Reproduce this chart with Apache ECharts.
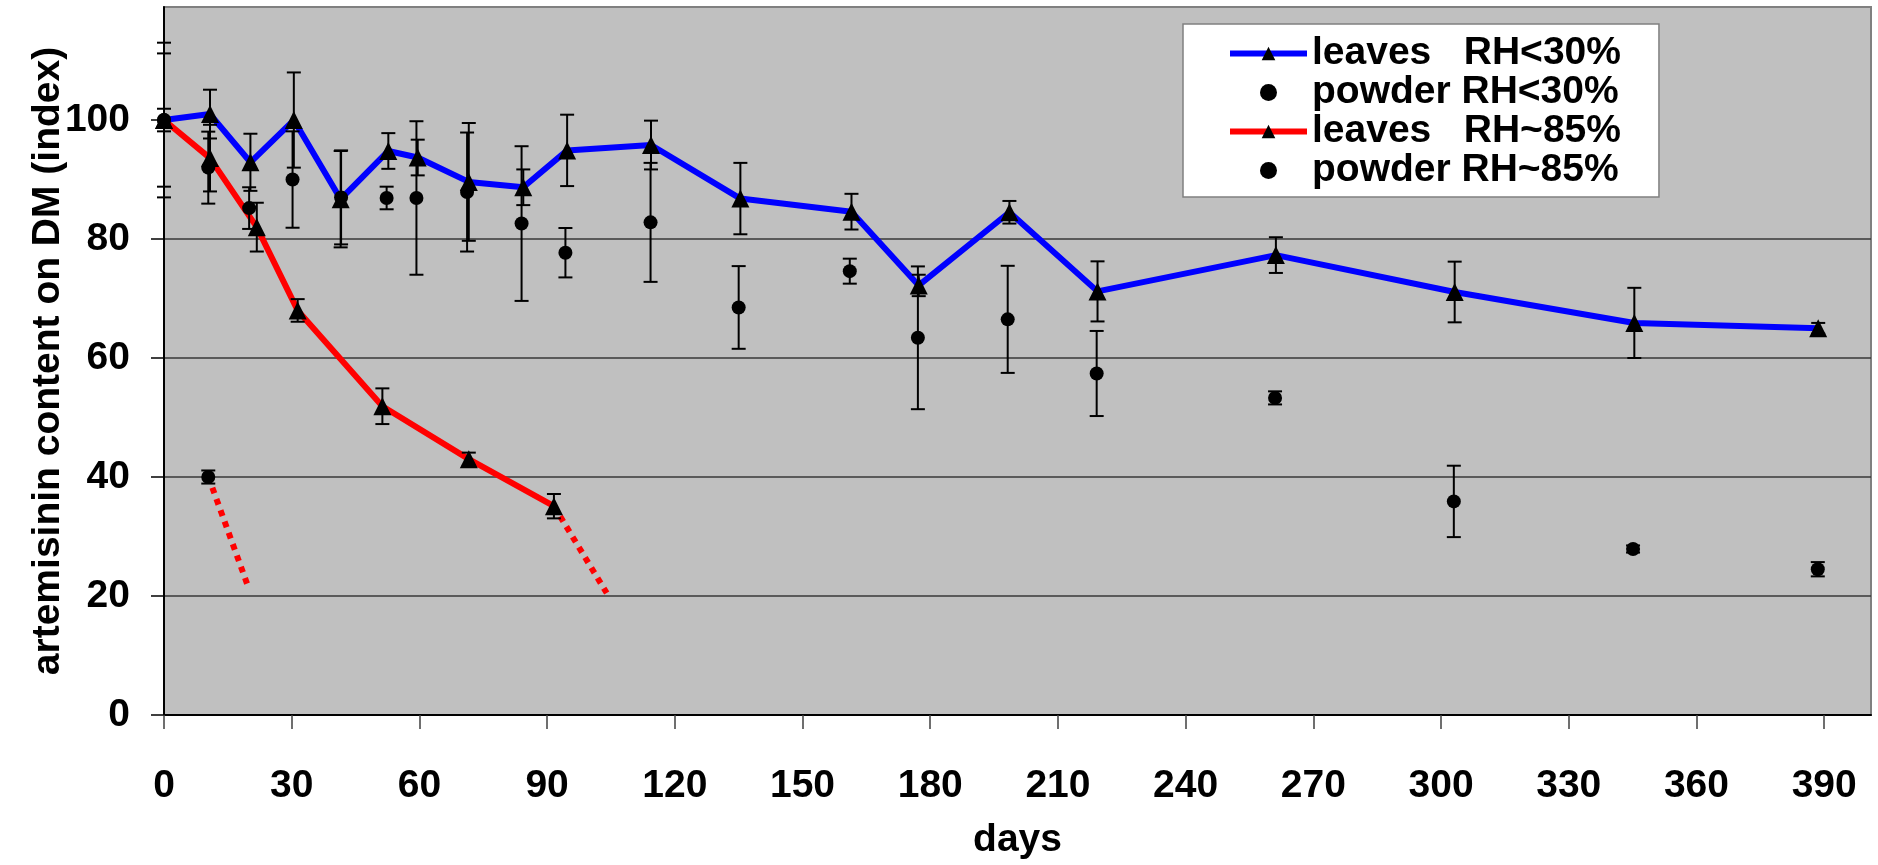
<!DOCTYPE html>
<html>
<head>
<meta charset="utf-8">
<script src="https://cdn.jsdelivr.net/npm/echarts@6/dist/echarts.min.js"></script>
<style>
  html, body { margin: 0; padding: 0; background: #ffffff; }
  #chart { width: 1878px; height: 865px; }
</style>
</head>
<body>
<div id="chart"></div>
<script>
// Axis ticks
const xTickValues = [0, 30, 60, 90, 120, 150, 180, 210, 240, 270, 300, 330, 360, 390];
const yTickValues = [0, 20, 40, 60, 80, 100];

// Leaves, dried at RH < 30 %
const leavesDryDays   = [0, 10.8, 20.3, 30.5, 41.5, 52.7, 59.6, 71.6, 84.4, 94.7, 114.4, 135.4, 161.5, 177.3, 198.6, 219.3, 261.2, 303.2, 345.4, 388.6];
const leavesDryValues = [100, 101.0, 92.9, 100.0, 86.7, 94.8, 93.7, 89.6, 88.7, 94.9, 95.8, 86.8, 84.6, 72.2, 84.5, 71.2, 77.3, 71.1, 65.9, 65.0];
const leavesDryErr    = [13, 4.1, 4.8, 8, 8.1, 3, 3, 9.9, 3, 6, 4.1, 6, 3, 1.8, 1.9, 5.05, 3, 5.1, 5.9, 0.9];

// Powder, stored at RH < 30 %
const powderDryDays   = [0, 10.4, 20.0, 30.2, 41.6, 52.3, 59.3, 71.2, 84.0, 94.3, 114.3, 135.0, 161.1, 177.1, 198.2, 219.1, 261.0, 303.0, 345.1, 388.5];
const powderDryValues = [100, 92.0, 85.2, 90.0, 87.0, 86.9, 86.9, 87.9, 82.6, 77.7, 82.8, 68.5, 74.6, 63.4, 66.5, 57.4, 53.3, 35.9, 27.9, 24.5];
const powderDryErr    = [11.2, 6.05, 3.5, 8.1, 7.9, 1.9, 12.9, 10, 13.0, 4.15, 10, 6.95, 2.1, 12, 9, 7.15, 1.1, 6, 0.6, 1.2];

// Leaves, stored at RH ~ 85 %
const leavesWetDays   = [0, 10.8, 21.8, 31.4, 51.3, 71.6, 91.6];
const leavesWetValues = [100, 93.6, 82.0, 68.0, 51.9, 43.0, 35.1];
const leavesWetErr    = [1.9, 5.6, 4.1, 1.9, 3, 1.1, 2.05];

// Powder, stored at RH ~ 85 %
const powderWetDays   = [0, 10.4];
const powderWetValues = [100, 40.0];
const powderWetErr    = [0, 1.1];

// Dotted extrapolations of the RH ~ 85 % curves
const powderWetTrend = [[10.4, 40.1], [19.6, 21.9]];
const leavesWetTrend = [[91.6, 35.1], [104.0, 20.5]];

const FONT = "'Liberation Sans', Arial, Helvetica, sans-serif";

function pairs(days, values) {
  return days.map((d, i) => [d, values[i]]);
}
function bars(days, values, errs) {
  const out = [];
  days.forEach((d, i) => {
    if (errs[i] > 0) out.push([d, values[i] - errs[i], values[i] + errs[i]]);
  });
  return out;
}

const errorBarData = []
  .concat(bars(leavesDryDays, leavesDryValues, leavesDryErr))
  .concat(bars(powderDryDays, powderDryValues, powderDryErr))
  .concat(bars(leavesWetDays, leavesWetValues, leavesWetErr))
  .concat(bars(powderWetDays, powderWetValues, powderWetErr));

const names = ['leaves   RH<30%', 'powder RH<30%', 'leaves   RH~85%', 'powder RH~85%'];

const chart = echarts.init(document.getElementById('chart'), null, { renderer: 'canvas' });

chart.setOption({
  animation: false,
  backgroundColor: '#ffffff',
  textStyle: { fontFamily: FONT },
  grid: {
    left: 164, right: 7, top: 7, bottom: 150,
    containLabel: false,
    outerBoundsMode: 'none',
    show: true,
    backgroundColor: '#c0c0c0',
    borderColor: '#808080',
    borderWidth: 2
  },
  legend: {
    orient: 'vertical',
    left: 1183,
    top: 24,
    data: [
      { name: names[0], lineStyle: { color: '#0000ff', width: 6 } },
      { name: names[1] },
      { name: names[2], lineStyle: { color: '#ff0000', width: 6 } },
      { name: names[3] }
    ],
    itemWidth: 77,
    itemHeight: 17,
    itemGap: 0,
    itemTextGap: 11,
    padding: [10, 38, 7, 44],
    backgroundColor: '#ffffff',
    borderColor: '#808080',
    borderWidth: 1.5,
    borderRadius: 0,
    selectedMode: false,
    z: 10,
    textStyle: {
      fontFamily: FONT, fontWeight: 'bold', fontSize: 39, color: '#000000', lineHeight: 39
    }
  },
  xAxis: {
    type: 'value',
    min: 0,
    max: 401,
    interval: 30,
    name: 'days',
    nameLocation: 'middle',
    nameGap: 106,
    nameTextStyle: { fontFamily: FONT, fontWeight: 'bold', fontSize: 39, color: '#000000' },
    axisLine: { show: true, onZero: false, lineStyle: { color: '#000000', width: 2 } },
    axisTick: { show: true, inside: false, length: 14, customValues: xTickValues, lineStyle: { color: '#404040', width: 1.5 } },
    axisLabel: {
      customValues: xTickValues,
      margin: 52,
      fontFamily: FONT, fontWeight: 'bold', fontSize: 39, color: '#000000'
    },
    splitLine: { show: false }
  },
  yAxis: {
    type: 'value',
    min: 0,
    max: 119,
    interval: 20,
    name: 'artemisinin content on DM (index)',
    nameLocation: 'middle',
    nameRotate: 90,
    nameGap: 96,
    nameMoveOverlap: false,
    nameTextStyle: { fontFamily: FONT, fontWeight: 'bold', fontSize: 39, color: '#000000' },
    axisLine: { show: true, lineStyle: { color: '#000000', width: 2 } },
    axisTick: { show: true, inside: false, length: 13, customValues: yTickValues, lineStyle: { color: '#000000', width: 1.5 } },
    axisLabel: {
      customValues: yTickValues,
      margin: 34,
      padding: [10, 0, 0, 0],
      fontFamily: FONT, fontWeight: 'bold', fontSize: 39, color: '#000000'
    },
    splitLine: { show: true, showMinLine: false, showMaxLine: false, lineStyle: { color: '#383838', width: 1.5 } }
  },
  series: [
    {
      name: names[0],
      type: 'line',
      data: pairs(leavesDryDays, leavesDryValues),
      symbol: 'triangle',
      symbolSize: 18,
      showAllSymbol: true,
      clip: false,
      lineStyle: { color: '#0000ff', width: 6 },
      itemStyle: { color: '#000000', opacity: 1 },
      z: 3
    },
    {
      name: names[1],
      type: 'scatter',
      data: pairs(powderDryDays, powderDryValues),
      symbol: 'circle',
      symbolSize: 14,
      clip: false,
      itemStyle: { color: '#000000', opacity: 1 },
      z: 4
    },
    {
      name: names[2],
      type: 'line',
      data: pairs(leavesWetDays, leavesWetValues),
      symbol: 'triangle',
      symbolSize: 18,
      showAllSymbol: true,
      clip: false,
      lineStyle: { color: '#ff0000', width: 6 },
      itemStyle: { color: '#000000', opacity: 1 },
      z: 3
    },
    {
      name: names[3],
      type: 'scatter',
      data: pairs(powderWetDays, powderWetValues),
      symbol: 'circle',
      symbolSize: 14,
      clip: false,
      itemStyle: { color: '#000000', opacity: 1 },
      z: 4
    },
    {
      name: 'trend-powder',
      type: 'line',
      data: powderWetTrend,
      symbol: 'none',
      clip: false,
      lineStyle: { color: '#ff0000', width: 6, type: [6, 6], cap: 'butt' },
      z: 2
    },
    {
      name: 'trend-leaves',
      type: 'line',
      data: leavesWetTrend,
      symbol: 'none',
      clip: false,
      lineStyle: { color: '#ff0000', width: 6, type: [6, 6], cap: 'butt' },
      z: 2
    },
    {
      name: 'error bars',
      type: 'custom',
      data: errorBarData,
      encode: { x: 0, y: [1, 2] },
      clip: false,
      z: 5,
      renderItem: function (params, api) {
        const x = api.value(0);
        const lo = api.coord([x, api.value(1)]);
        const hi = api.coord([x, api.value(2)]);
        const hw = 7;
        const style = { stroke: '#000000', lineWidth: 2, fill: null };
        return {
          type: 'group',
          children: [
            { type: 'line', shape: { x1: lo[0], y1: lo[1], x2: hi[0], y2: hi[1] }, style: style },
            { type: 'line', shape: { x1: lo[0] - hw, y1: lo[1], x2: lo[0] + hw, y2: lo[1] }, style: style },
            { type: 'line', shape: { x1: hi[0] - hw, y1: hi[1], x2: hi[0] + hw, y2: hi[1] }, style: style }
          ]
        };
      }
    }
  ]
});
</script>
</body>
</html>
